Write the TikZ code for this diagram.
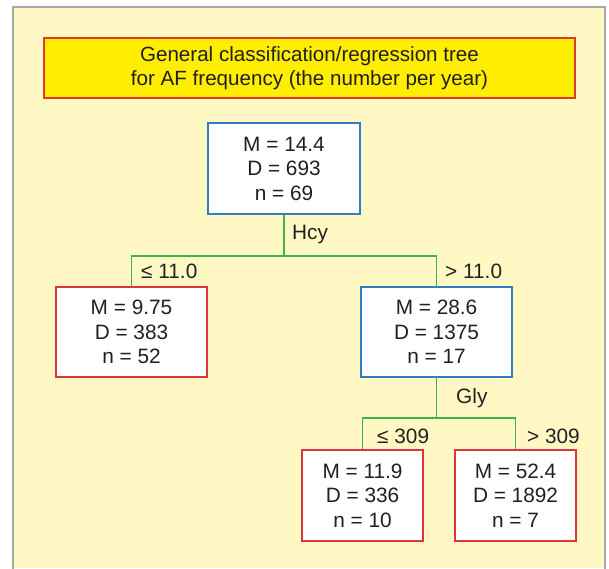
\documentclass[tikz,border=0pt]{standalone}
\usepackage{fontspec}
\setmainfont{Liberation Sans}
\definecolor{panel}{HTML}{FFF8C4}
\definecolor{panelborder}{HTML}{A8A8A8}
\definecolor{hdrfill}{HTML}{FFEE00}
\definecolor{hdrborder}{HTML}{E03A2F}
\definecolor{bluebd}{HTML}{2F7FC1}
\definecolor{redbd}{HTML}{D9363E}
\definecolor{greenln}{HTML}{3DB34A}
\definecolor{txt}{HTML}{231F20}
\tikzset{
  box/.style={draw, fill=white, line width=1.2pt, align=center, text=txt,
    font=\fontsize{20.8}{24.5}\selectfont, inner sep=0pt},
  bluebox/.style={box, draw=bluebd},
  redbox/.style={box, draw=redbd},
  conn/.style={draw=greenln, line width=1.2pt},
  lbl/.style={anchor=west, text=txt, font=\fontsize{20.8}{24}\selectfont, inner sep=0pt}
}
\begin{document}
\begin{tikzpicture}[x=1pt,y=-1pt]
\useasboundingbox (0,0) rectangle (609,568);
\fill[white] (0,0) rectangle (609,568);
\fill[panel] (13,7) rectangle (605,568);
\draw[panelborder, line width=1.5pt] (13,569) -- (13,7) -- (605,7) -- (605,569);
\node[draw=hdrborder, fill=hdrfill, line width=1.2pt, minimum width=531, minimum height=60,
  align=center, text=txt, font=\fontsize{20.6}{23.5}\selectfont, inner sep=0pt]
  (hdr) at (309.5,68) {General classification/regression tree\\for AF frequency (the number per year)};
\node[bluebox, minimum width=152, minimum height=91] (root) at (284,168.5) {M = 14.4\\D = 693\\n = 69};
\node[redbox, minimum width=151, minimum height=90] (lft) at (131.5,332) {M = 9.75\\D = 383\\n = 52};
\node[bluebox, minimum width=151, minimum height=90] (rgt) at (436.5,332) {M = 28.6\\D = 1375\\n = 17};
\node[redbox, minimum width=121, minimum height=91] (b1) at (362.5,495.5) {M = 11.9\\D = 336\\n = 10};
\node[redbox, minimum width=121, minimum height=91] (b2) at (515.5,495.5) {M = 52.4\\D = 1892\\n = 7};
\coordinate (h1) at (0,256);
\coordinate (h2) at (0,418);
\draw[conn] (root.south) -- (root.south |- h1);
\draw[conn] (lft.north) -- (lft.north |- h1) -- (rgt.north |- h1) -- (rgt.north);
\draw[conn] (rgt.south) -- (rgt.south |- h2);
\draw[conn] (b1.north) -- (b1.north |- h2) -- (b2.north |- h2) -- (b2.north);
\node[lbl] (hcy) at (292,234) {Hcy};
\node[lbl] (l1) at (141,271) {≤ 11.0};
\node[lbl] (r1) at (445,271) {> 11.0};
\node[lbl] (gly) at (456,398) {Gly};
\node[lbl] (l2) at (377,436) {≤ 309};
\node[lbl] (r2) at (527,436) {> 309};
\end{tikzpicture}
\end{document}
